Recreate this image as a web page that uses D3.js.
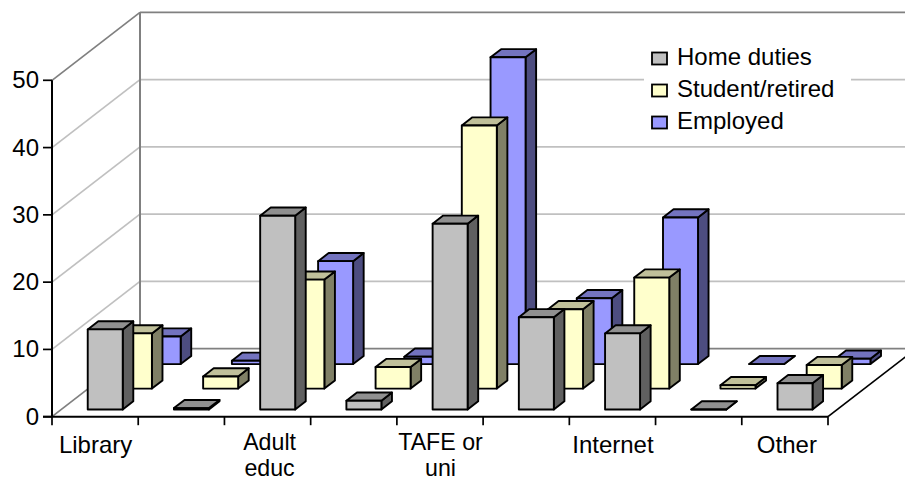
<!DOCTYPE html>
<html>
<head>
<meta charset="utf-8">
<script src="https://cdn.jsdelivr.net/npm/d3@7"></script>
<style>
  html, body { margin: 0; padding: 0; background: #fff; overflow: hidden; }
  svg { display: block; }
  text { font-family: "Liberation Sans", Arial, sans-serif; fill: #000; }
</style>
</head>
<body>
<svg id="chart" width="905" height="481"></svg>
<script>
// Survey categories along the floor; only every other one carries a label.
const categories = ["Library", "Libraries 2", "Adult educ", "Adult 2", "TAFE or uni", "TAFE 2", "Internet", "Internet 2", "Other"];
const tickLabels = [["Library"], [], ["Adult", "educ"], [], ["TAFE or", "uni"], [], ["Internet"], [], ["Other"]];
const valueTicks = [0, 10, 20, 30, 40, 50];

const seriesNames = ["Home duties", "Student/retired", "Employed"];
const homeDuties = [11.9, 0.2, 28.8, 1.3, 27.6, 13.7, 11.3, 0, 3.9];
const studentRetired = [8.2, 1.8, 16.2, 3.2, 39.1, 11.8, 16.5, 0.5, 3.5];
const employed = [4.1, 0.5, 15.3, 1.1, 45.6, 9.8, 21.8, 0, 0.8];

const faceColours = [
  { front: "#c0c0c0", side: "#606060", top: "#909090" },
  { front: "#ffffcc", side: "#808066", top: "#c0c09a" },
  { front: "#9999ff", side: "#4d4d80", top: "#7373bf" }
];

const svg = d3.select("#chart");

// Front-plane scales plus an oblique depth projection for the three rows.
const x = d3.scaleBand().domain(categories).range([52, 828]);
const y = d3.scaleLinear().domain([0, 50]).range([416.7, 80.3]);
const depthX = d3.scaleLinear().domain([0, 3]).range([0, 88]);
const depthY = d3.scaleLinear().domain([0, 3]).range([0, -68]);
const rowStartX = [0.345, 1.34, 2.32];
const rowStartY = [0.32, 1.24, 2.32];
const barDepth = 0.36;
const barWidth = 35;
const xLeft = 52, xRight = 828;

const line = (g, x1, y1, x2, y2, stroke, width) =>
  g.append("line").attr("x1", x1).attr("y1", y1).attr("x2", x2).attr("y2", y2)
    .attr("stroke", stroke).attr("stroke-width", width);

// Walls and gridlines
const walls = svg.append("g");
valueTicks.forEach(v => {
  const colour = (v === 0 || v === 50) ? "#808080" : "#c0c0c0";
  line(walls, xLeft, y(v), xLeft + depthX(3), y(v) + depthY(3), colour, 1.7);
  line(walls, xLeft + depthX(3), y(v) + depthY(3), xRight + depthX(3), y(v) + depthY(3), colour, 1.7);
});
line(walls, xLeft + depthX(3), y(50) + depthY(3), xLeft + depthX(3), y(0) + depthY(3), "#808080", 2);

// The legend sits on a white panel that interrupts the gridline behind it
svg.append("rect").attr("x", 644).attr("y", 44).attr("width", 207).attr("height", 94).attr("fill", "#fff");

// Bars: back row first so the nearer rows overlap it
const rows = [homeDuties, studentRetired, employed];
d3.range(2, -1, -1).forEach(r => {
  const g = svg.append("g").attr("class", "row");
  const dx = depthX(barDepth), dy = depthY(barDepth);
  categories.forEach((c, i) => {
    const v = rows[r][i];
    const x0 = x(c) + (x.bandwidth() - barWidth) / 2 + depthX(rowStartX[r]);
    const x1 = x0 + barWidth;
    const yb = y(0) + depthY(rowStartY[r]);
    const yt = yb - (y(0) - y(v));
    const poly = (pts, fill) => g.append("polygon")
      .attr("points", pts.map(p => p.join(",")).join(" "))
      .attr("fill", fill).attr("stroke", "#000").attr("stroke-width", 1.9)
      .attr("stroke-linejoin", "round");
    poly([[x1, yb], [x1 + dx, yb + dy], [x1 + dx, yt + dy], [x1, yt]], faceColours[r].side);
    poly([[x0, yt], [x1, yt], [x1 + dx, yt + dy], [x0 + dx, yt + dy]], faceColours[r].top);
    poly([[x0, yb], [x1, yb], [x1, yt], [x0, yt]], faceColours[r].front);
  });
});

// Axis lines and ticks
const axes = svg.append("g");
line(axes, xLeft, y(50), xLeft, y(0), "#000", 2);
line(axes, xLeft - 9, y(0), xRight, y(0), "#000", 2);
line(axes, xRight, y(0), xRight + depthX(3), y(0) + depthY(3), "#000", 1.7);
valueTicks.forEach(v => line(axes, xLeft - 9, y(v), xLeft, y(v), "#000", 1.7));
d3.range(categories.length + 1).forEach(i => {
  const tx = xLeft + i * x.bandwidth();
  line(axes, tx, y(0), tx, y(0) + 8.5, "#000", 1.7);
});

const label = (g, text, px, py, anchor, size) =>
  g.append("text").text(text).attr("font-size", size).attr("text-anchor", anchor)
    .attr("x", px).attr("y", py);

const texts = svg.append("g");
valueTicks.forEach(v => label(texts, String(v), 39, y(v) + 8, "end", 24));
categories.forEach((c, i) => {
  const lines = tickLabels[i];
  lines.forEach((t, k) => {
    // Two-line labels sit slightly higher so both lines stay inside the page
    const baseline = lines.length > 1 ? 450 + k * 26 : 452.5;
    label(texts, t, x(c) + x.bandwidth() / 2 + (i === 2 || i === 8 ? 2 : 0.5), baseline, "middle", lines.length > 1 ? 23.2 : 24);
  });
});

// Legend
const legendY = [58.5, 90.5, 122.5];
const legendBaseline = [65, 97, 128.5];
seriesNames.forEach((name, r) => {
  svg.append("rect").attr("x", 652).attr("y", legendY[r] - 6).attr("width", 15).attr("height", 12)
    .attr("fill", faceColours[r].front).attr("stroke", "#000").attr("stroke-width", 1.8);
  label(texts, name, 677, legendBaseline[r], "start", 24);
});
</script>
</body>
</html>
